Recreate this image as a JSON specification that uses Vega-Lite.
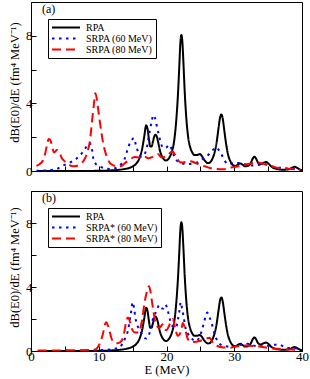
{
  "$schema": "https://vega.github.io/schema/vega-lite/v6.json",
  "padding": {"left": 7, "top": 1, "right": 7, "bottom": 3},
  "spacing": 20,
  "bounds": "flush",
  "config": {
    "font": "Liberation Serif",
    "view": {"stroke": "black", "strokeWidth": 1},
    "title": {"font": "Liberation Serif", "fontSize": 12, "fontWeight": "normal", "anchor": "start", "frame": "group", "offset": -14, "dx": 11, "color": "black"},
    "axis": {"domainColor": "black", "tickColor": "black", "labelColor": "black", "titleColor": "black", "labelFont": "Liberation Serif", "titleFont": "Liberation Serif", "labelFontSize": 13, "titleFontSize": 12.5, "titleFontWeight": "normal", "grid": false, "tickSize": -5, "labelFlush": false, "labelPadding": 4},
    "legend": {"orient": "top-left", "offset": 17, "strokeColor": "black", "fillColor": "white", "padding": 3, "symbolType": "stroke", "symbolSize": 784, "clipHeight": 11, "symbolStrokeWidth": 2, "labelFont": "Liberation Serif", "labelFontSize": 10, "labelOffset": 5, "rowPadding": 0, "labelColor": "black"}
  },
  "data": {"values": [
    {"series":"RPA","E":1,"y":0},{"series":"RPA","E":4,"y":0},{"series":"RPA","E":8,"y":0.005},{"series":"RPA","E":10,"y":0.01},{"series":"RPA","E":11,"y":0.02},{"series":"RPA","E":12,"y":0.04},{"series":"RPA","E":13,"y":0.07},{"series":"RPA","E":14,"y":0.13},{"series":"RPA","E":14.5,"y":0.18},{"series":"RPA","E":15,"y":0.27},{"series":"RPA","E":15.5,"y":0.42},{"series":"RPA","E":16,"y":0.75},{"series":"RPA","E":16.4,"y":1.3},{"series":"RPA","E":16.7,"y":2.0},{"series":"RPA","E":17.0,"y":2.7},{"series":"RPA","E":17.2,"y":2.5},{"series":"RPA","E":17.4,"y":1.9},{"series":"RPA","E":17.6,"y":1.45},{"series":"RPA","E":17.8,"y":1.45},{"series":"RPA","E":18.0,"y":1.75},{"series":"RPA","E":18.2,"y":2.05},{"series":"RPA","E":18.4,"y":2.15},{"series":"RPA","E":18.6,"y":2.0},{"series":"RPA","E":18.8,"y":1.65},{"series":"RPA","E":19.0,"y":1.25},{"series":"RPA","E":19.3,"y":0.9},{"series":"RPA","E":19.6,"y":0.7},{"series":"RPA","E":19.9,"y":0.62},{"series":"RPA","E":20.2,"y":0.68},{"series":"RPA","E":20.5,"y":0.85},{"series":"RPA","E":20.8,"y":1.15},{"series":"RPA","E":21.1,"y":1.7},{"series":"RPA","E":21.4,"y":2.8},{"series":"RPA","E":21.7,"y":4.6},{"series":"RPA","E":21.9,"y":6.3},{"series":"RPA","E":22.05,"y":7.6},{"series":"RPA","E":22.2,"y":8.05},{"series":"RPA","E":22.35,"y":7.6},{"series":"RPA","E":22.5,"y":6.4},{"series":"RPA","E":22.7,"y":4.6},{"series":"RPA","E":22.95,"y":3.0},{"series":"RPA","E":23.2,"y":2.0},{"series":"RPA","E":23.5,"y":1.4},{"series":"RPA","E":23.8,"y":1.1},{"series":"RPA","E":24.1,"y":0.95},{"series":"RPA","E":24.5,"y":0.95},{"series":"RPA","E":24.9,"y":1.0},{"series":"RPA","E":25.2,"y":0.9},{"series":"RPA","E":25.5,"y":0.7},{"series":"RPA","E":25.8,"y":0.55},{"series":"RPA","E":26.1,"y":0.47},{"series":"RPA","E":26.4,"y":0.5},{"series":"RPA","E":26.8,"y":0.75},{"series":"RPA","E":27.1,"y":1.1},{"series":"RPA","E":27.4,"y":1.7},{"series":"RPA","E":27.7,"y":2.6},{"series":"RPA","E":27.9,"y":3.15},{"series":"RPA","E":28.1,"y":3.35},{"series":"RPA","E":28.3,"y":3.1},{"series":"RPA","E":28.5,"y":2.5},{"series":"RPA","E":28.8,"y":1.6},{"series":"RPA","E":29.1,"y":0.95},{"series":"RPA","E":29.4,"y":0.6},{"series":"RPA","E":29.8,"y":0.35},{"series":"RPA","E":30.2,"y":0.3},{"series":"RPA","E":30.6,"y":0.4},{"series":"RPA","E":30.9,"y":0.45},{"series":"RPA","E":31.2,"y":0.38},{"series":"RPA","E":31.6,"y":0.28},{"series":"RPA","E":32.0,"y":0.3},{"series":"RPA","E":32.4,"y":0.45},{"series":"RPA","E":32.8,"y":0.78},{"series":"RPA","E":33.0,"y":0.85},{"series":"RPA","E":33.2,"y":0.75},{"series":"RPA","E":33.5,"y":0.5},{"series":"RPA","E":33.9,"y":0.4},{"series":"RPA","E":34.3,"y":0.48},{"series":"RPA","E":34.7,"y":0.53},{"series":"RPA","E":35.1,"y":0.42},{"series":"RPA","E":35.5,"y":0.25},{"series":"RPA","E":36.0,"y":0.15},{"series":"RPA","E":36.5,"y":0.1},{"series":"RPA","E":37.0,"y":0.08},{"series":"RPA","E":37.5,"y":0.08},{"series":"RPA","E":38.0,"y":0.1},{"series":"RPA","E":38.5,"y":0.18},{"series":"RPA","E":38.9,"y":0.25},{"series":"RPA","E":39.3,"y":0.18},{"series":"RPA","E":39.7,"y":0.08},{"series":"RPA","E":40.0,"y":0.05},

    {"series":"SRPA (60 MeV)","E":0.8,"y":0.02},{"series":"SRPA (60 MeV)","E":2.0,"y":0.03},{"series":"SRPA (60 MeV)","E":3.0,"y":0.06},{"series":"SRPA (60 MeV)","E":3.8,"y":0.12},{"series":"SRPA (60 MeV)","E":4.6,"y":0.3},{"series":"SRPA (60 MeV)","E":5.3,"y":0.42},{"series":"SRPA (60 MeV)","E":6.0,"y":0.55},{"series":"SRPA (60 MeV)","E":6.6,"y":0.7},{"series":"SRPA (60 MeV)","E":7.2,"y":0.9},{"series":"SRPA (60 MeV)","E":7.7,"y":1.15},{"series":"SRPA (60 MeV)","E":8.2,"y":1.45},{"series":"SRPA (60 MeV)","E":8.6,"y":1.65},{"series":"SRPA (60 MeV)","E":8.9,"y":1.5},{"series":"SRPA (60 MeV)","E":9.2,"y":0.75},{"series":"SRPA (60 MeV)","E":9.6,"y":0.4},{"series":"SRPA (60 MeV)","E":10.1,"y":0.28},{"series":"SRPA (60 MeV)","E":11.0,"y":0.15},{"series":"SRPA (60 MeV)","E":12.0,"y":0.12},{"series":"SRPA (60 MeV)","E":12.8,"y":0.25},{"series":"SRPA (60 MeV)","E":13.3,"y":0.4},{"series":"SRPA (60 MeV)","E":13.8,"y":0.7},{"series":"SRPA (60 MeV)","E":14.2,"y":1.2},{"series":"SRPA (60 MeV)","E":14.6,"y":1.65},{"series":"SRPA (60 MeV)","E":15.0,"y":1.9},{"series":"SRPA (60 MeV)","E":15.2,"y":1.95},{"series":"SRPA (60 MeV)","E":15.5,"y":1.5},{"series":"SRPA (60 MeV)","E":15.9,"y":1.05},{"series":"SRPA (60 MeV)","E":16.3,"y":0.85},{"series":"SRPA (60 MeV)","E":16.7,"y":0.95},{"series":"SRPA (60 MeV)","E":17.1,"y":1.4},{"series":"SRPA (60 MeV)","E":17.5,"y":2.3},{"series":"SRPA (60 MeV)","E":17.8,"y":2.9},{"series":"SRPA (60 MeV)","E":18.05,"y":3.3},{"series":"SRPA (60 MeV)","E":18.3,"y":3.15},{"series":"SRPA (60 MeV)","E":18.6,"y":2.6},{"series":"SRPA (60 MeV)","E":18.9,"y":2.1},{"series":"SRPA (60 MeV)","E":19.2,"y":1.6},{"series":"SRPA (60 MeV)","E":19.6,"y":1.35},{"series":"SRPA (60 MeV)","E":20.0,"y":1.4},{"series":"SRPA (60 MeV)","E":20.4,"y":1.55},{"series":"SRPA (60 MeV)","E":20.8,"y":1.25},{"series":"SRPA (60 MeV)","E":21.2,"y":0.8},{"series":"SRPA (60 MeV)","E":21.7,"y":0.55},{"series":"SRPA (60 MeV)","E":22.3,"y":0.45},{"series":"SRPA (60 MeV)","E":23.0,"y":0.4},{"series":"SRPA (60 MeV)","E":23.9,"y":0.45},{"series":"SRPA (60 MeV)","E":24.8,"y":0.55},{"series":"SRPA (60 MeV)","E":25.3,"y":0.7},{"series":"SRPA (60 MeV)","E":25.9,"y":0.85},{"series":"SRPA (60 MeV)","E":26.5,"y":1.1},{"series":"SRPA (60 MeV)","E":27.0,"y":1.3},{"series":"SRPA (60 MeV)","E":27.3,"y":1.4},{"series":"SRPA (60 MeV)","E":27.7,"y":1.25},{"series":"SRPA (60 MeV)","E":28.1,"y":1.0},{"series":"SRPA (60 MeV)","E":28.6,"y":0.6},{"series":"SRPA (60 MeV)","E":29.2,"y":0.4},{"series":"SRPA (60 MeV)","E":29.9,"y":0.48},{"series":"SRPA (60 MeV)","E":30.5,"y":0.48},{"series":"SRPA (60 MeV)","E":31.0,"y":0.47},{"series":"SRPA (60 MeV)","E":31.6,"y":0.4},{"series":"SRPA (60 MeV)","E":32.1,"y":0.35},{"series":"SRPA (60 MeV)","E":32.7,"y":0.33},{"series":"SRPA (60 MeV)","E":33.2,"y":0.34},{"series":"SRPA (60 MeV)","E":33.9,"y":0.38},{"series":"SRPA (60 MeV)","E":34.6,"y":0.4},{"series":"SRPA (60 MeV)","E":35.1,"y":0.33},{"series":"SRPA (60 MeV)","E":35.6,"y":0.27},{"series":"SRPA (60 MeV)","E":36.2,"y":0.22},{"series":"SRPA (60 MeV)","E":36.7,"y":0.2},{"series":"SRPA (60 MeV)","E":37.3,"y":0.17},{"series":"SRPA (60 MeV)","E":37.9,"y":0.15},{"series":"SRPA (60 MeV)","E":38.5,"y":0.13},{"series":"SRPA (60 MeV)","E":39.1,"y":0.12},{"series":"SRPA (60 MeV)","E":39.7,"y":0.1},

    {"series":"SRPA (80 MeV)","E":0.8,"y":0.3},{"series":"SRPA (80 MeV)","E":1.3,"y":0.42},{"series":"SRPA (80 MeV)","E":1.75,"y":0.62},{"series":"SRPA (80 MeV)","E":2.1,"y":1.05},{"series":"SRPA (80 MeV)","E":2.4,"y":1.6},{"series":"SRPA (80 MeV)","E":2.6,"y":1.9},{"series":"SRPA (80 MeV)","E":2.8,"y":1.85},{"series":"SRPA (80 MeV)","E":3.0,"y":1.65},{"series":"SRPA (80 MeV)","E":3.2,"y":1.3},{"series":"SRPA (80 MeV)","E":3.4,"y":1.1},{"series":"SRPA (80 MeV)","E":3.6,"y":1.15},{"series":"SRPA (80 MeV)","E":3.8,"y":1.25},{"series":"SRPA (80 MeV)","E":4.1,"y":1.18},{"series":"SRPA (80 MeV)","E":4.5,"y":0.8},{"series":"SRPA (80 MeV)","E":4.9,"y":0.6},{"series":"SRPA (80 MeV)","E":5.2,"y":0.5},{"series":"SRPA (80 MeV)","E":5.7,"y":0.35},{"series":"SRPA (80 MeV)","E":6.2,"y":0.28},{"series":"SRPA (80 MeV)","E":6.7,"y":0.3},{"series":"SRPA (80 MeV)","E":7.2,"y":0.4},{"series":"SRPA (80 MeV)","E":7.6,"y":0.52},{"series":"SRPA (80 MeV)","E":7.9,"y":0.7},{"series":"SRPA (80 MeV)","E":8.2,"y":0.95},{"series":"SRPA (80 MeV)","E":8.45,"y":1.3},{"series":"SRPA (80 MeV)","E":8.7,"y":1.8},{"series":"SRPA (80 MeV)","E":8.9,"y":2.5},{"series":"SRPA (80 MeV)","E":9.1,"y":3.3},{"series":"SRPA (80 MeV)","E":9.3,"y":4.0},{"series":"SRPA (80 MeV)","E":9.5,"y":4.6},{"series":"SRPA (80 MeV)","E":9.7,"y":4.3},{"series":"SRPA (80 MeV)","E":9.9,"y":3.7},{"series":"SRPA (80 MeV)","E":10.1,"y":3.1},{"series":"SRPA (80 MeV)","E":10.35,"y":2.4},{"series":"SRPA (80 MeV)","E":10.6,"y":1.75},{"series":"SRPA (80 MeV)","E":10.85,"y":1.28},{"series":"SRPA (80 MeV)","E":11.1,"y":0.95},{"series":"SRPA (80 MeV)","E":11.3,"y":0.72},{"series":"SRPA (80 MeV)","E":11.7,"y":0.45},{"series":"SRPA (80 MeV)","E":12.2,"y":0.33},{"series":"SRPA (80 MeV)","E":12.8,"y":0.25},{"series":"SRPA (80 MeV)","E":13.4,"y":0.3},{"series":"SRPA (80 MeV)","E":13.8,"y":0.45},{"series":"SRPA (80 MeV)","E":14.5,"y":0.65},{"series":"SRPA (80 MeV)","E":15.3,"y":0.83},{"series":"SRPA (80 MeV)","E":16.0,"y":0.8},{"series":"SRPA (80 MeV)","E":16.8,"y":0.85},{"series":"SRPA (80 MeV)","E":17.3,"y":0.75},{"series":"SRPA (80 MeV)","E":18.0,"y":0.85},{"series":"SRPA (80 MeV)","E":18.7,"y":1.0},{"series":"SRPA (80 MeV)","E":19.3,"y":0.8},{"series":"SRPA (80 MeV)","E":20.0,"y":0.85},{"series":"SRPA (80 MeV)","E":20.6,"y":1.1},{"series":"SRPA (80 MeV)","E":20.9,"y":1.15},{"series":"SRPA (80 MeV)","E":21.2,"y":1.0},{"series":"SRPA (80 MeV)","E":21.5,"y":0.8},{"series":"SRPA (80 MeV)","E":22.0,"y":0.52},{"series":"SRPA (80 MeV)","E":22.5,"y":0.5},{"series":"SRPA (80 MeV)","E":22.9,"y":0.58},{"series":"SRPA (80 MeV)","E":23.6,"y":0.58},{"series":"SRPA (80 MeV)","E":24.1,"y":0.5},{"series":"SRPA (80 MeV)","E":24.6,"y":0.42},{"series":"SRPA (80 MeV)","E":25.1,"y":0.3},{"series":"SRPA (80 MeV)","E":25.6,"y":0.28},{"series":"SRPA (80 MeV)","E":26.4,"y":0.18},{"series":"SRPA (80 MeV)","E":27.3,"y":0.13},{"series":"SRPA (80 MeV)","E":28.3,"y":0.1},{"series":"SRPA (80 MeV)","E":29.0,"y":0.14},{"series":"SRPA (80 MeV)","E":29.5,"y":0.2},{"series":"SRPA (80 MeV)","E":30.2,"y":0.25},{"series":"SRPA (80 MeV)","E":30.8,"y":0.3},{"series":"SRPA (80 MeV)","E":31.5,"y":0.37},{"series":"SRPA (80 MeV)","E":32.3,"y":0.43},{"series":"SRPA (80 MeV)","E":33.0,"y":0.47},{"series":"SRPA (80 MeV)","E":33.5,"y":0.5},{"series":"SRPA (80 MeV)","E":34.2,"y":0.43},{"series":"SRPA (80 MeV)","E":34.7,"y":0.38},{"series":"SRPA (80 MeV)","E":35.2,"y":0.33},{"series":"SRPA (80 MeV)","E":35.7,"y":0.26},{"series":"SRPA (80 MeV)","E":36.2,"y":0.2},{"series":"SRPA (80 MeV)","E":37.0,"y":0.16},{"series":"SRPA (80 MeV)","E":37.7,"y":0.14},{"series":"SRPA (80 MeV)","E":38.5,"y":0.12},{"series":"SRPA (80 MeV)","E":39.2,"y":0.1},{"series":"SRPA (80 MeV)","E":39.8,"y":0.08},

    {"series":"SRPA* (60 MeV)","E":1.0,"y":0.0},{"series":"SRPA* (60 MeV)","E":3.0,"y":0.0},{"series":"SRPA* (60 MeV)","E":5.0,"y":0.01},{"series":"SRPA* (60 MeV)","E":7.0,"y":0.02},{"series":"SRPA* (60 MeV)","E":9.0,"y":0.04},{"series":"SRPA* (60 MeV)","E":10.5,"y":0.06},{"series":"SRPA* (60 MeV)","E":11.8,"y":0.1},{"series":"SRPA* (60 MeV)","E":12.5,"y":0.15},{"series":"SRPA* (60 MeV)","E":13.1,"y":0.22},{"series":"SRPA* (60 MeV)","E":13.55,"y":0.5},{"series":"SRPA* (60 MeV)","E":14.0,"y":0.9},{"series":"SRPA* (60 MeV)","E":14.3,"y":1.25},{"series":"SRPA* (60 MeV)","E":14.6,"y":2.0},{"series":"SRPA* (60 MeV)","E":14.8,"y":2.5},{"series":"SRPA* (60 MeV)","E":15.0,"y":3.05},{"series":"SRPA* (60 MeV)","E":15.2,"y":2.7},{"series":"SRPA* (60 MeV)","E":15.4,"y":2.1},{"series":"SRPA* (60 MeV)","E":15.7,"y":1.6},{"series":"SRPA* (60 MeV)","E":16.0,"y":1.35},{"series":"SRPA* (60 MeV)","E":16.5,"y":0.95},{"series":"SRPA* (60 MeV)","E":17.0,"y":0.78},{"series":"SRPA* (60 MeV)","E":17.4,"y":1.0},{"series":"SRPA* (60 MeV)","E":17.7,"y":1.45},{"series":"SRPA* (60 MeV)","E":18.0,"y":2.0},{"series":"SRPA* (60 MeV)","E":18.4,"y":2.4},{"series":"SRPA* (60 MeV)","E":18.7,"y":2.7},{"series":"SRPA* (60 MeV)","E":18.9,"y":2.87},{"series":"SRPA* (60 MeV)","E":19.2,"y":2.7},{"series":"SRPA* (60 MeV)","E":19.5,"y":2.65},{"series":"SRPA* (60 MeV)","E":19.85,"y":2.9},{"series":"SRPA* (60 MeV)","E":20.2,"y":2.5},{"series":"SRPA* (60 MeV)","E":20.55,"y":1.9},{"series":"SRPA* (60 MeV)","E":20.9,"y":1.55},{"series":"SRPA* (60 MeV)","E":21.4,"y":1.45},{"series":"SRPA* (60 MeV)","E":21.7,"y":2.0},{"series":"SRPA* (60 MeV)","E":21.9,"y":2.5},{"series":"SRPA* (60 MeV)","E":22.1,"y":3.05},{"series":"SRPA* (60 MeV)","E":22.3,"y":2.65},{"series":"SRPA* (60 MeV)","E":22.5,"y":2.2},{"series":"SRPA* (60 MeV)","E":22.8,"y":1.45},{"series":"SRPA* (60 MeV)","E":23.2,"y":1.05},{"series":"SRPA* (60 MeV)","E":23.6,"y":0.83},{"series":"SRPA* (60 MeV)","E":24.0,"y":0.68},{"series":"SRPA* (60 MeV)","E":24.4,"y":0.62},{"series":"SRPA* (60 MeV)","E":24.9,"y":0.9},{"series":"SRPA* (60 MeV)","E":25.3,"y":1.4},{"series":"SRPA* (60 MeV)","E":25.6,"y":1.9},{"series":"SRPA* (60 MeV)","E":25.8,"y":2.2},{"series":"SRPA* (60 MeV)","E":26.0,"y":2.4},{"series":"SRPA* (60 MeV)","E":26.35,"y":2.1},{"series":"SRPA* (60 MeV)","E":26.75,"y":1.6},{"series":"SRPA* (60 MeV)","E":27.1,"y":1.04},{"series":"SRPA* (60 MeV)","E":27.6,"y":0.58},{"series":"SRPA* (60 MeV)","E":28.2,"y":0.35},{"series":"SRPA* (60 MeV)","E":28.8,"y":0.3},{"series":"SRPA* (60 MeV)","E":29.7,"y":0.25},{"series":"SRPA* (60 MeV)","E":30.3,"y":0.32},{"series":"SRPA* (60 MeV)","E":30.8,"y":0.38},{"series":"SRPA* (60 MeV)","E":31.4,"y":0.42},{"series":"SRPA* (60 MeV)","E":32.0,"y":0.45},{"series":"SRPA* (60 MeV)","E":32.6,"y":0.38},{"series":"SRPA* (60 MeV)","E":33.2,"y":0.31},{"series":"SRPA* (60 MeV)","E":34.1,"y":0.3},{"series":"SRPA* (60 MeV)","E":35.0,"y":0.31},{"series":"SRPA* (60 MeV)","E":35.8,"y":0.38},{"series":"SRPA* (60 MeV)","E":36.5,"y":0.42},{"series":"SRPA* (60 MeV)","E":37.2,"y":0.3},{"series":"SRPA* (60 MeV)","E":37.8,"y":0.21},{"series":"SRPA* (60 MeV)","E":38.5,"y":0.18},{"series":"SRPA* (60 MeV)","E":39.2,"y":0.15},{"series":"SRPA* (60 MeV)","E":39.8,"y":0.12},

    {"series":"SRPA* (80 MeV)","E":1.0,"y":0.03},{"series":"SRPA* (80 MeV)","E":3.0,"y":0.03},{"series":"SRPA* (80 MeV)","E":5.0,"y":0.04},{"series":"SRPA* (80 MeV)","E":7.0,"y":0.05},{"series":"SRPA* (80 MeV)","E":8.4,"y":0.06},{"series":"SRPA* (80 MeV)","E":9.2,"y":0.08},{"series":"SRPA* (80 MeV)","E":9.6,"y":0.12},{"series":"SRPA* (80 MeV)","E":10.1,"y":0.42},{"series":"SRPA* (80 MeV)","E":10.6,"y":1.04},{"series":"SRPA* (80 MeV)","E":10.95,"y":1.7},{"series":"SRPA* (80 MeV)","E":11.1,"y":1.8},{"series":"SRPA* (80 MeV)","E":11.3,"y":1.65},{"series":"SRPA* (80 MeV)","E":11.5,"y":1.4},{"series":"SRPA* (80 MeV)","E":11.85,"y":0.83},{"series":"SRPA* (80 MeV)","E":12.3,"y":0.52},{"series":"SRPA* (80 MeV)","E":12.7,"y":0.48},{"series":"SRPA* (80 MeV)","E":13.05,"y":0.52},{"series":"SRPA* (80 MeV)","E":13.4,"y":0.65},{"series":"SRPA* (80 MeV)","E":13.8,"y":1.25},{"series":"SRPA* (80 MeV)","E":14.05,"y":1.85},{"series":"SRPA* (80 MeV)","E":14.3,"y":2.1},{"series":"SRPA* (80 MeV)","E":14.55,"y":1.9},{"series":"SRPA* (80 MeV)","E":14.8,"y":1.5},{"series":"SRPA* (80 MeV)","E":15.05,"y":1.25},{"series":"SRPA* (80 MeV)","E":15.4,"y":1.15},{"series":"SRPA* (80 MeV)","E":15.9,"y":1.15},{"series":"SRPA* (80 MeV)","E":16.2,"y":1.5},{"series":"SRPA* (80 MeV)","E":16.45,"y":2.1},{"series":"SRPA* (80 MeV)","E":16.75,"y":3.0},{"series":"SRPA* (80 MeV)","E":17.1,"y":3.7},{"series":"SRPA* (80 MeV)","E":17.4,"y":4.05},{"series":"SRPA* (80 MeV)","E":17.6,"y":3.8},{"series":"SRPA* (80 MeV)","E":17.85,"y":3.1},{"series":"SRPA* (80 MeV)","E":18.1,"y":2.4},{"series":"SRPA* (80 MeV)","E":18.35,"y":1.8},{"series":"SRPA* (80 MeV)","E":18.6,"y":1.55},{"series":"SRPA* (80 MeV)","E":18.9,"y":1.45},{"series":"SRPA* (80 MeV)","E":19.2,"y":1.55},{"series":"SRPA* (80 MeV)","E":19.4,"y":1.67},{"series":"SRPA* (80 MeV)","E":19.7,"y":1.35},{"series":"SRPA* (80 MeV)","E":20.0,"y":1.3},{"series":"SRPA* (80 MeV)","E":20.3,"y":1.5},{"series":"SRPA* (80 MeV)","E":20.6,"y":1.8},{"series":"SRPA* (80 MeV)","E":20.95,"y":2.0},{"series":"SRPA* (80 MeV)","E":21.3,"y":1.4},{"series":"SRPA* (80 MeV)","E":21.65,"y":0.95},{"series":"SRPA* (80 MeV)","E":21.95,"y":1.05},{"series":"SRPA* (80 MeV)","E":22.2,"y":1.35},{"series":"SRPA* (80 MeV)","E":22.4,"y":1.75},{"series":"SRPA* (80 MeV)","E":22.6,"y":1.6},{"series":"SRPA* (80 MeV)","E":22.85,"y":1.2},{"series":"SRPA* (80 MeV)","E":23.15,"y":0.75},{"series":"SRPA* (80 MeV)","E":23.5,"y":0.6},{"series":"SRPA* (80 MeV)","E":23.9,"y":0.56},{"series":"SRPA* (80 MeV)","E":24.4,"y":0.58},{"series":"SRPA* (80 MeV)","E":24.9,"y":0.62},{"series":"SRPA* (80 MeV)","E":25.4,"y":0.7},{"series":"SRPA* (80 MeV)","E":25.9,"y":0.78},{"series":"SRPA* (80 MeV)","E":26.35,"y":0.83},{"series":"SRPA* (80 MeV)","E":26.6,"y":0.7},{"series":"SRPA* (80 MeV)","E":26.9,"y":0.48},{"series":"SRPA* (80 MeV)","E":27.3,"y":0.35},{"series":"SRPA* (80 MeV)","E":27.8,"y":0.27},{"series":"SRPA* (80 MeV)","E":28.6,"y":0.22},{"series":"SRPA* (80 MeV)","E":29.4,"y":0.2},{"series":"SRPA* (80 MeV)","E":29.8,"y":0.25},{"series":"SRPA* (80 MeV)","E":30.5,"y":0.3},{"series":"SRPA* (80 MeV)","E":31.3,"y":0.35},{"series":"SRPA* (80 MeV)","E":32.0,"y":0.33},{"series":"SRPA* (80 MeV)","E":32.7,"y":0.31},{"series":"SRPA* (80 MeV)","E":33.5,"y":0.28},{"series":"SRPA* (80 MeV)","E":34.2,"y":0.25},{"series":"SRPA* (80 MeV)","E":35.0,"y":0.2},{"series":"SRPA* (80 MeV)","E":35.7,"y":0.16},{"series":"SRPA* (80 MeV)","E":36.7,"y":0.12},{"series":"SRPA* (80 MeV)","E":37.8,"y":0.1},{"series":"SRPA* (80 MeV)","E":38.8,"y":0.08},{"series":"SRPA* (80 MeV)","E":39.7,"y":0.06}
  ]},
  "resolve": {"scale": {"color": "independent", "strokeDash": "independent"}},
  "vconcat": [
    {
      "width": 271,
      "height": 169,
      "title": "(a)",
      "transform": [{"filter": "indexof(datum.series, '*') < 0"}],
      "mark": {"type": "line", "strokeWidth": 2, "interpolate": "monotone", "clip": true},
      "encoding": {
        "x": {"field": "E", "type": "quantitative", "scale": {"domain": [0, 40], "nice": false}, "axis": {"values": [0, 5, 10, 15, 20, 25, 30, 35, 40], "labels": false, "title": null}},
        "y": {"field": "y", "type": "quantitative", "scale": {"domain": [0, 10], "nice": false}, "axis": {"values": [0, 2, 4, 6, 8, 10], "labelExpr": "datum.value % 4 == 0 ? datum.label : ''", "title": "dB(E0)/dE (fm⁴ MeV⁻¹)", "titleY": 80}},
        "color": {"field": "series", "type": "nominal", "scale": {"domain": ["RPA", "SRPA (60 MeV)", "SRPA (80 MeV)"], "range": ["#000000", "#0000ff", "#ff0000"]}, "legend": {"title": null}},
        "strokeDash": {"field": "series", "type": "nominal", "scale": {"domain": ["RPA", "SRPA (60 MeV)", "SRPA (80 MeV)"], "range": [[1, 0], [2.5, 4.5], [9, 5]]}, "legend": {"title": null}}
      }
    },
    {
      "width": 271,
      "height": 160,
      "title": "(b)",
      "transform": [{"filter": "datum.series == 'RPA' || indexof(datum.series, '*') >= 0"}],
      "mark": {"type": "line", "strokeWidth": 2, "interpolate": "monotone", "clip": true},
      "encoding": {
        "x": {"field": "E", "type": "quantitative", "scale": {"domain": [0, 40], "nice": false}, "axis": {"values": [0, 5, 10, 15, 20, 25, 30, 35, 40], "labelExpr": "datum.value % 10 == 0 ? datum.label : ''", "title": "E  (MeV)", "titlePadding": 0}},
        "y": {"field": "y", "type": "quantitative", "scale": {"domain": [0, 10], "nice": false}, "axis": {"values": [0, 2, 4, 6, 8, 10], "labelExpr": "datum.value % 4 == 0 ? datum.label : ''", "title": "dB(E0)/dE (fm⁴ MeV⁻¹)", "titleY": 76}},
        "color": {"field": "series", "type": "nominal", "scale": {"domain": ["RPA", "SRPA* (60 MeV)", "SRPA* (80 MeV)"], "range": ["#000000", "#0000ff", "#ff0000"]}, "legend": {"title": null}},
        "strokeDash": {"field": "series", "type": "nominal", "scale": {"domain": ["RPA", "SRPA* (60 MeV)", "SRPA* (80 MeV)"], "range": [[1, 0], [2.5, 4.5], [9, 5]]}, "legend": {"title": null}}
      }
    }
  ]
}
